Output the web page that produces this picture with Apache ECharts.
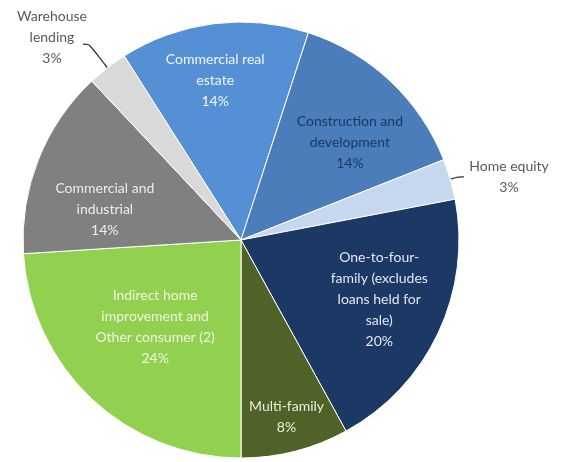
<!DOCTYPE html>
<html>
<head>
<meta charset="utf-8">
<script src="https://cdn.jsdelivr.net/npm/echarts@6/dist/echarts.min.js"></script>
<style>
  html, body { margin: 0; padding: 0; background: #fff; }
  #main { width: 569px; height: 462px; }
</style>
</head>
<body>
<div id="main"></div>
<script>
// slices, clockwise from the top
var categories = ['Commercial real\nestate', 'Construction and\ndevelopment', 'Home equity',
  'One-to-four-\nfamily (excludes\nloans held for\nsale)', 'Multi-family',
  'Indirect home\nimprovement and\nOther consumer (2)', 'Commercial and\nindustrial', 'Warehouse\nlending']
var values = [14, 14, 3, 20, 8, 24, 14, 3]

// styling per slice
var colors = ['#5590d4', '#4a7dba', '#c5d8f0', '#1c3865', '#4f6228', '#92d050', '#808080', '#d9d9d9']
var textColors = ['#f2f6fb', '#1c3865', '#595959', '#e1e7f0', '#e9eedc', '#eef7e2', '#ececec', '#595959']
var outside = [false, false, true, false, false, false, false, true]
// where inside labels sit: fraction of radius, and turn (deg, clockwise) from slice middle
var labelDist = [0.74, 0.67, null, 0.69, 0.84, 0.56, 0.64, null]
var labelTurn = [-2, 5, 0, -2, 0, 1.5, -9, 0]

var cx = 241, cy = 240, R = 218, startAngle = 122.4

// middle angle of each slice (math degrees, pie goes clockwise)
var total = values.reduce(function (a, b) { return a + b }, 0)
var midAngle = []
var acc = 0
values.forEach(function (v) {
  midAngle.push(startAngle - 360 * (acc + v / 2) / total)
  acc += v
})

var chart = echarts.init(document.getElementById('main'))

var data = values.map(function (v, i) {
  var item = {
    value: v,
    name: categories[i],
    itemStyle: { color: colors[i] },
    label: { color: textColors[i] }
  }
  if (outside[i]) {
    item.label = {
      position: 'outside',
      color: textColors[i],
      formatter: '{t|{b}\n{c}%}',
      rich: { t: { width: i === 2 ? 84 : 76, align: 'center', color: textColors[i], fontFamily: 'Lato', fontSize: 14, lineHeight: 21 } }
    }
    item.labelLine = {
      show: true,
      length: i === 2 ? 8 : 30,
      length2: 6,
      smooth: 0.3,
      lineStyle: { color: '#333', width: 1.3 }
    }
  }
  return item
})

var option = {
  animation: false,
  series: [
    {
      type: 'pie',
      center: [cx, cy],
      radius: R,
      startAngle: startAngle,
      clockwise: true,
      avoidLabelOverlap: false,
      itemStyle: { borderColor: '#ffffff', borderWidth: 1 },
      label: {
        position: 'inside',
        formatter: '{b}\n{c}%',
        fontFamily: 'Lato',
        fontSize: 14,
        lineHeight: 21,
        align: 'center',
        distanceToLabelLine: 3
      },
      labelLine: { show: false },
      labelLayout: function (p) {
        var i = p.dataIndex
        if (i === 7) return { dx: 10, dy: -7 }
        if (labelDist[i] == null) return {}
        var a = (midAngle[i] - labelTurn[i]) * Math.PI / 180
        return {
          x: cx + R * labelDist[i] * Math.cos(a),
          y: cy - R * labelDist[i] * Math.sin(a),
          align: 'center',
          verticalAlign: 'middle'
        }
      },
      emphasis: { disabled: true },
      data: data
    }
  ]
}
chart.setOption(option)
</script>
</body>
</html>
